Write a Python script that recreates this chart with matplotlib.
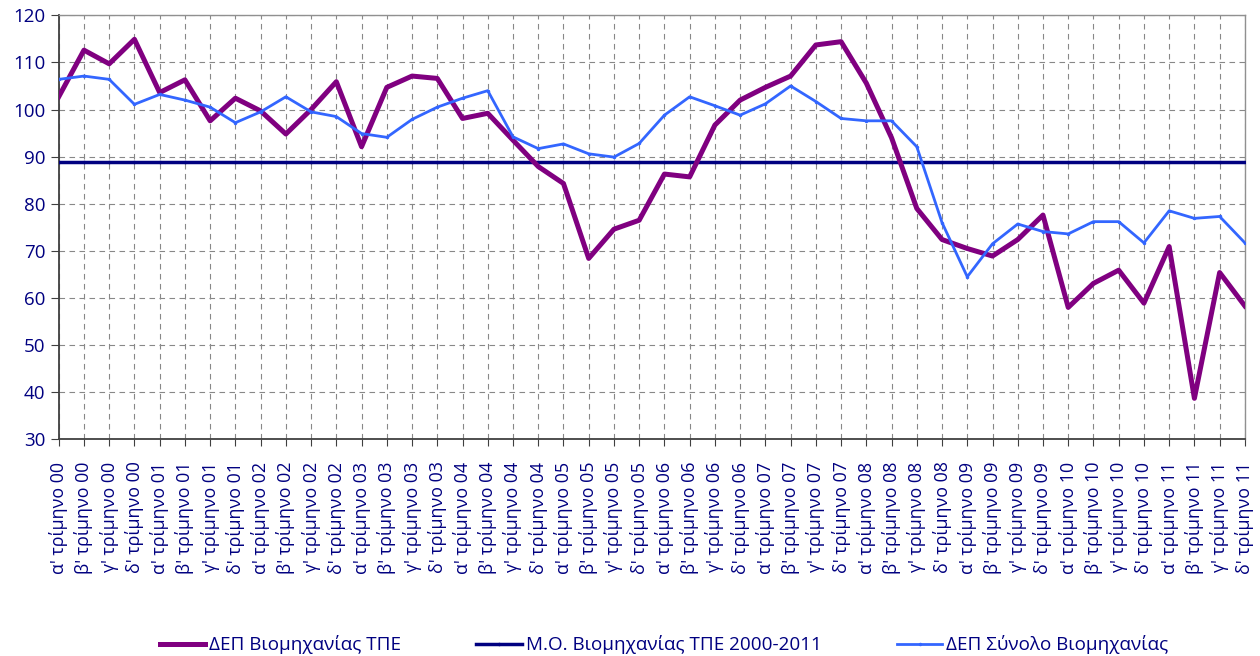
import numpy as np
import matplotlib.pyplot as plt

plt.rcParams['font.family'] = ['Open Sans', 'DejaVu Sans']

# ===================== data =====================
quarter_names = ["α'", "β'", "γ'", "δ'"]
years = ['00', '01', '02', '03', '04', '05', '06', '07', '08', '09', '10', '11']
labels = [f"{q} τρίμηνο {y}" for y in years for q in quarter_names]

dep_tpe = [102.7, 112.6, 109.7, 114.9,
           103.6, 106.3, 97.6, 102.4,
           99.7, 94.8, 100.0, 105.9,
           92.1, 104.7, 107.1, 106.6,
           98.1, 99.2, 93.5, 87.9,
           84.3, 68.4, 74.6, 76.5,
           86.3, 85.7, 96.7, 102.0,
           104.7, 107.1, 113.7, 114.4,
           105.6, 94.0, 79.0, 72.4,
           70.5, 68.9, 72.4, 77.6,
           58.0, 63.1, 65.9, 58.9,
           70.9, 38.7, 65.4, 58.3]

dep_total = [106.4, 107.1, 106.4, 101.1,
             103.2, 102.0, 100.5, 97.2,
             99.5, 102.7, 99.5, 98.5,
             94.9, 94.1, 97.9, 100.5,
             102.4, 104.0, 94.2, 91.7,
             92.7, 90.6, 89.9, 92.8,
             98.8, 102.7, 100.8, 98.8,
             101.2, 105.0, 101.7, 98.1,
             97.6, 97.6, 92.1, 76.0,
             64.5, 71.5, 75.7, 74.1,
             73.6, 76.2, 76.2, 71.7,
             78.5, 76.9, 77.3, 71.7]

mean_tpe = 88.9
mean_line = [mean_tpe] * len(labels)

x = np.arange(len(labels))
navy = '#000080'

# ===================== plot =====================
fig = plt.figure(figsize=(12.6, 6.56), dpi=100)
ax = fig.add_axes([0.0466, 0.3303, 0.9414, 0.6464])

ax.plot(x, dep_tpe, color='#800080', lw=3.6, label='ΔΕΠ Βιομηχανίας ΤΠΕ', zorder=4)
ax.plot(x, mean_line, color=navy, lw=2.5, marker='.', markersize=3,
        label='Μ.Ο. Βιομηχανίας ΤΠΕ 2000-2011', zorder=3)
ax.plot(x, dep_total, color='#3366FF', lw=2.0, marker='.', markersize=3,
        label='ΔΕΠ Σύνολο Βιομηχανίας', zorder=5)

ax.set_xlim(0, len(labels) - 1)
ax.set_ylim(30, 120)
ax.set_yticks(np.arange(30, 121, 10))
ax.set_xticks(x)
ax.set_xticklabels(labels, rotation=90, fontsize=12.9, color=navy)
ax.tick_params(axis='y', labelsize=13.5, labelcolor=navy, length=6, color='#404040')
ax.tick_params(axis='x', length=5, color='#404040', pad=11)

ax.grid(True, color='#888888', linestyle=(0, (5, 4)), lw=0.8)
for s in ['left', 'bottom']:
    ax.spines[s].set_color('#404040')
    ax.spines[s].set_linewidth(1.3)
for s in ['top', 'right']:
    ax.spines[s].set_color('#909090')
    ax.spines[s].set_linewidth(1.0)

fig.legend(loc='center', bbox_to_anchor=(0.527, 0.017), ncol=3, frameon=False,
           fontsize=13.6, handlelength=2.4, columnspacing=4.0, handletextpad=0.2,
           labelcolor=navy)

plt.savefig('out.png', dpi=100)
